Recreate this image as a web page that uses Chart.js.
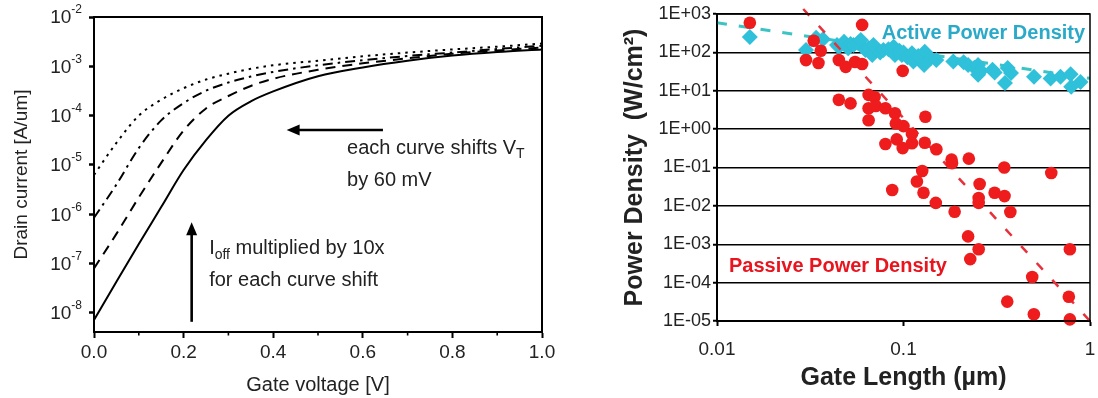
<!DOCTYPE html>
<html>
<head>
<meta charset="utf-8">
<script src="https://cdn.jsdelivr.net/npm/chart.js@4.4.1/dist/chart.umd.min.js"></script>
<style>
    html, body { margin: 0; padding: 0; background: #fff; }
    body { width: 1098px; height: 398px; position: relative; overflow: hidden; }
    .panel { position: absolute; top: 0; height: 398px; }
    #ivWrap { left: 0; width: 560px; }
    #powerWrap { left: 600px; width: 498px; }
</style>
</head>
<body>
<div class="panel" id="ivWrap"><canvas id="ivChart"></canvas></div>
<div class="panel" id="powerWrap"><canvas id="powerChart"></canvas></div>
<script>
const FONT = '"Liberation Sans", Arial, Helvetica, sans-serif';
const INK = "#222";

// ---- left panel: drain current vs gate voltage ----
const gateVoltage = [0, 0.05, 0.1, 0.15, 0.2, 0.25, 0.3, 0.35, 0.4, 0.5, 0.6, 0.7, 0.8, 0.9, 1.0];
const currentSolid = [7.2e-9, 4.3e-8, 2.5e-7, 1.4e-6, 7.9e-6, 3.2e-5, 1.0e-4, 1.95e-4, 3.1e-4, 6.3e-4, 9.5e-4, 1.3e-3, 1.65e-3, 1.95e-3, 2.2e-3];
const currentDashed = [8.0e-8, 4.0e-7, 2.2e-6, 1.1e-5, 5.0e-5, 1.4e-4, 2.5e-4, 4.0e-4, 5.6e-4, 8.5e-4, 1.15e-3, 1.45e-3, 1.8e-3, 2.1e-3, 2.4e-3];
const currentDashDot = [8.5e-7, 4.0e-6, 2.2e-5, 8.0e-5, 1.8e-4, 3.2e-4, 4.7e-4, 6.2e-4, 7.7e-4, 1.05e-3, 1.33e-3, 1.62e-3, 1.9e-3, 2.25e-3, 2.6e-3];
const currentDotted = [6.3e-6, 2.8e-5, 1.0e-4, 2.1e-4, 3.6e-4, 5.4e-4, 7.1e-4, 8.9e-4, 1.05e-3, 1.3e-3, 1.6e-3, 1.9e-3, 2.2e-3, 2.5e-3, 2.9e-3];

const voltageTicks = [0, 0.2, 0.4, 0.6, 0.8, 1.0];
const voltageMinorTicks = [0.1, 0.3, 0.5, 0.7, 0.9];
const currentTicks = [1e-8, 1e-7, 1e-6, 1e-5, 1e-4, 1e-3, 1e-2];

// ---- right panel: power density vs gate length ----
const activeLength = [0.015, 0.030, 0.034, 0.037, 0.044, 0.045, 0.048, 0.0505, 0.052, 0.054, 0.057, 0.059, 0.0625, 0.065, 0.068, 0.069, 0.075, 0.078, 0.083, 0.0885, 0.090, 0.095, 0.098, 0.100, 0.105, 0.111, 0.113, 0.120, 0.129, 0.130, 0.140, 0.150, 0.185, 0.210, 0.222, 0.240, 0.251, 0.251, 0.260, 0.300, 0.308, 0.350, 0.362, 0.377, 0.501, 0.615, 0.695, 0.787, 0.793, 0.889];
const activeDensity = [250, 115, 240, 220, 155, 140, 190, 128, 165, 156, 175, 210, 116, 130, 86, 156, 100, 116, 120, 141, 86, 110, 86, 100, 75, 95, 58, 80, 47, 104, 70, 63, 58, 55, 47, 40, 47, 26, 33, 35, 30, 16, 39, 29, 23, 21, 23, 27, 12.8, 17];
const passiveLength = [0.015, 0.060, 0.033, 0.036, 0.030, 0.035, 0.045, 0.049, 0.055, 0.060, 0.099, 0.045, 0.052, 0.065, 0.070, 0.065, 0.071, 0.080, 0.090, 0.065, 0.131, 0.091, 0.100, 0.111, 0.080, 0.092, 0.099, 0.111, 0.130, 0.150, 0.181, 0.182, 0.224, 0.347, 0.620, 0.126, 0.118, 0.087, 0.128, 0.149, 0.188, 0.256, 0.253, 0.253, 0.308, 0.348, 0.374, 0.222, 0.253, 0.228, 0.780, 0.490, 0.360, 0.500, 0.770, 0.780];
const passiveDensity = [590, 520, 200, 110, 63, 53, 63, 42, 56, 50, 33, 5.8, 4.7, 7.8, 6.9, 3.5, 4.0, 3.5, 2.6, 1.7, 2.1, 1.4, 1.2, 0.75, 0.41, 0.54, 0.32, 0.43, 0.44, 0.30, 0.16, 0.13, 0.17, 0.10, 0.072, 0.081, 0.043, 0.026, 0.022, 0.012, 0.0070, 0.037, 0.016, 0.012, 0.022, 0.018, 0.0069, 0.0016, 7.4e-4, 4.1e-4, 7.4e-4, 1.4e-4, 3.2e-5, 1.5e-5, 4.3e-5, 1.1e-5];
const activeTrendLength = [0.01, 1];
const activeTrendDensity = [590, 21];
const passiveTrendLength = [0.029, 1];
const passiveTrendDensity = [1350, 1e-5];

const lengthTicks = [0.01, 0.1, 1];
const densityTicks = [1e-5, 1e-4, 1e-3, 1e-2, 1e-1, 1, 10, 100, 1000];

function toPoints(xs, ys) {
    return xs.map((x, i) => ({ x, y: ys[i] }));
}

function fixedTicks(values) {
    return (scale) => {
        scale.ticks = values.map((value) => ({ value }));
    };
}

// text with sub/superscript pieces: [{ t, sub, sup }]
function drawRich(ctx, parts, x, y, size, weight = "") {
    let cx = x;
    parts.forEach((p) => {
        const small = p.sub || p.sup;
        const fs = small ? Math.round(size * 0.68) : size;
        ctx.font = `${weight} ${fs}px ${FONT}`;
        const dy = p.sub ? size * 0.32 : p.sup ? -size * 0.38 : 0;
        ctx.fillText(p.t, cx, y + dy);
        cx += ctx.measureText(p.t).width;
    });
}

const frameBox = {
    id: "frameBox",
    afterDraw(chart, args, opts) {
        const { left, top, right, bottom } = chart.chartArea;
        const ctx = chart.ctx;
        ctx.save();
        ctx.strokeStyle = "#000";
        ctx.lineWidth = opts.width || 2;
        ctx.strokeRect(left, top, right - left, bottom - top);
        ctx.restore();
    },
};

// 10^n labels, minor voltage ticks, arrows and notes on the left panel
const ivDecorations = {
    id: "ivDecorations",
    afterDraw(chart) {
        const ctx = chart.ctx;
        const xs = chart.scales.x;
        const ys = chart.scales.y;
        ctx.save();
        ctx.fillStyle = INK;
        ctx.textBaseline = "middle";
        currentTicks.forEach((v) => {
            const py = ys.getPixelForValue(v);
            const exp = String(Math.round(Math.log10(v)));
            ctx.textAlign = "right";
            ctx.font = `12px ${FONT}`;
            const right = ys.right - 12;
            ctx.fillText(exp, right, py - 7);
            const w = ctx.measureText(exp).width;
            ctx.font = `19px ${FONT}`;
            ctx.fillText("10", right - w, py + 1);
        });

        ctx.strokeStyle = "#000";
        ctx.lineWidth = 1.6;
        voltageMinorTicks.forEach((v) => {
            const px = xs.getPixelForValue(v);
            ctx.beginPath();
            ctx.moveTo(px, xs.top);
            ctx.lineTo(px, xs.top + 3.5);
            ctx.stroke();
        });

        const arrow = (x0, y0, x1, y1) => {
            const ang = Math.atan2(y1 - y0, x1 - x0);
            const head = 13;
            ctx.lineWidth = 2.6;
            ctx.beginPath();
            ctx.moveTo(x0, y0);
            ctx.lineTo(x1 - Math.cos(ang) * head * 0.8, y1 - Math.sin(ang) * head * 0.8);
            ctx.stroke();
            ctx.beginPath();
            ctx.moveTo(x1, y1);
            ctx.lineTo(x1 - Math.cos(ang) * head + Math.sin(ang) * 5.5, y1 - Math.sin(ang) * head - Math.cos(ang) * 5.5);
            ctx.lineTo(x1 - Math.cos(ang) * head - Math.sin(ang) * 5.5, y1 - Math.sin(ang) * head + Math.cos(ang) * 5.5);
            ctx.closePath();
            ctx.fillStyle = "#000";
            ctx.fill();
        };
        arrow(xs.getPixelForValue(0.645), ys.getPixelForValue(5.1e-5), xs.getPixelForValue(0.43), ys.getPixelForValue(5.1e-5));
        arrow(xs.getPixelForValue(0.218), ys.getPixelForValue(6.6e-9), xs.getPixelForValue(0.218), ys.getPixelForValue(6.9e-7));

        ctx.fillStyle = INK;
        ctx.textAlign = "left";
        const noteX = xs.getPixelForValue(0.565);
        drawRich(ctx, [{ t: "each curve shifts V" }, { t: "T", sub: true }], noteX, ys.getPixelForValue(2.2e-5), 20);
        drawRich(ctx, [{ t: "by 60 mV" }], noteX, ys.getPixelForValue(4.9e-6), 20);
        const noteX2 = xs.getPixelForValue(0.257);
        drawRich(ctx, [{ t: "I" }, { t: "off", sub: true }, { t: " multiplied by 10x" }], noteX2, ys.getPixelForValue(2.0e-7), 20);
        drawRich(ctx, [{ t: "for each curve shift" }], noteX2, ys.getPixelForValue(4.5e-8), 20);
        ctx.restore();
    },
};

const densityLabels = {
    id: "densityLabels",
    afterDraw(chart) {
        const ctx = chart.ctx;
        const xs = chart.scales.x;
        const ys = chart.scales.y;
        ctx.save();
        ctx.textAlign = "left";
        ctx.textBaseline = "middle";
        ctx.font = `bold 20px ${FONT}`;
        ctx.fillStyle = "#2aa9c9";
        ctx.fillText("Active Power Density", xs.getPixelForValue(0.0764), ys.getPixelForValue(320));
        ctx.fillStyle = "#e8141e";
        ctx.fillText("Passive Power Density", xs.getPixelForValue(0.0116), ys.getPixelForValue(2.7e-4));
        ctx.restore();
    },
};

function lineSet(values, dash) {
    return {
        data: toPoints(gateVoltage, values),
        borderColor: "#000",
        borderWidth: 2,
        borderDash: dash,
        borderCapStyle: "butt",
        pointRadius: 0,
        cubicInterpolationMode: "monotone",
        fill: false,
    };
}

new Chart(document.getElementById("ivChart"), {
    type: "line",
    data: {
        datasets: [
            lineSet(currentSolid, []),
            lineSet(currentDashed, [10, 7]),
            lineSet(currentDashDot, [10, 5, 2.5, 5]),
            lineSet(currentDotted, [2.5, 5]),
        ],
    },
    options: {
        responsive: true,
        maintainAspectRatio: false,
        animation: false,
        devicePixelRatio: 1,
        layout: { padding: { left: 0, right: 18, top: 17, bottom: 0 } },
        plugins: { legend: { display: false }, tooltip: { enabled: false }, frameBox: { width: 2 } },
        scales: {
            x: {
                type: "linear",
                min: 0,
                max: 1,
                afterBuildTicks: fixedTicks(voltageTicks),
                afterFit: (s) => { s.height = 66; s.paddingRight = 0; s.paddingLeft = 0; },
                ticks: { color: INK, font: { size: 19, family: FONT }, padding: 3, callback: (v) => Number(v).toFixed(1) },
                grid: { drawOnChartArea: false, tickLength: 6, tickWidth: 2, tickColor: "#000" },
                border: { color: "#000", width: 2 },
                title: { display: true, text: "Gate voltage [V]", color: INK, font: { size: 20, family: FONT }, padding: { top: 0, bottom: 1 } },
            },
            y: {
                type: "logarithmic",
                min: 4.1e-9,
                max: 1e-2,
                afterBuildTicks: fixedTicks(currentTicks),
                afterFit: (s) => { s.width = 94; },
                ticks: { display: false },
                grid: { drawOnChartArea: false, tickLength: 5, tickWidth: 2.5, tickColor: "#000" },
                border: { color: "#000", width: 2 },
                title: { display: true, text: "Drain current [A/um]", color: INK, font: { size: 19, family: FONT }, padding: { top: 10, bottom: 0 } },
            },
        },
    },
    plugins: [frameBox, ivDecorations],
});

function densityLabel(v) {
    const e = Math.round(Math.log10(v));
    return `1E${e < 0 ? "-" : "+"}${String(Math.abs(e)).padStart(2, "0")}`;
}

new Chart(document.getElementById("powerChart"), {
    type: "scatter",
    data: {
        datasets: [
            {
                data: toPoints(passiveLength, passiveDensity),
                pointStyle: "circle",
                pointRadius: 6.3,
                backgroundColor: "#ee1c1c",
                borderColor: "#ee1c1c",
                borderWidth: 0,
                clip: false,
            },
            {
                type: "line",
                data: toPoints(passiveTrendLength, passiveTrendDensity),
                borderColor: "#e8303a",
                borderWidth: 2.5,
                borderDash: [9, 14],
                pointRadius: 0,
                clip: { left: 0, top: 6, right: 0, bottom: 0 },
            },
            {
                data: toPoints(activeLength, activeDensity),
                pointStyle: "rectRot",
                pointRadius: 8,
                backgroundColor: "#2fc0da",
                borderColor: "#2fc0da",
                borderWidth: 0,
                clip: false,
            },
            {
                type: "line",
                data: toPoints(activeTrendLength, activeTrendDensity),
                borderColor: "#3cc4c4",
                borderWidth: 3,
                borderDash: [10, 12],
                pointRadius: 0,
            },
        ],
    },
    options: {
        responsive: true,
        maintainAspectRatio: false,
        animation: false,
        devicePixelRatio: 1,
        layout: { padding: { left: 0, right: 5, top: 14, bottom: 0 } },
        plugins: { legend: { display: false }, tooltip: { enabled: false }, frameBox: { width: 1.5 } },
        scales: {
            x: {
                type: "logarithmic",
                min: 0.01,
                max: 1,
                afterBuildTicks: fixedTicks(lengthTicks),
                afterFit: (s) => { s.height = 77; s.paddingRight = 0; s.paddingLeft = 0; },
                ticks: { color: INK, font: { size: 19, family: FONT }, padding: 12, callback: (v) => String(v) },
                grid: { drawOnChartArea: false, tickLength: 5, tickWidth: 2, tickColor: "#000" },
                border: { color: "#000", width: 2 },
                title: { display: true, text: "Gate Length (µm)", color: INK, font: { size: 25, weight: "bold", family: FONT }, padding: { top: 0, bottom: 5 } },
            },
            y: {
                type: "logarithmic",
                min: 1e-5,
                max: 1e3,
                afterBuildTicks: fixedTicks(densityTicks),
                afterFit: (s) => { s.width = 117; },
                ticks: { color: INK, font: { size: 18, family: FONT }, padding: 2, callback: densityLabel },
                grid: { color: "#000", lineWidth: 1.5, tickLength: 4, tickWidth: 2, tickColor: "#000" },
                border: { color: "#000", width: 2 },
                title: { display: true, text: "Power Density  (W/cm²)", color: INK, font: { size: 25, weight: "bold", family: FONT }, padding: { top: 20, bottom: 0 } },
            },
        },
    },
    plugins: [frameBox, densityLabels],
});
</script>
</body>
</html>
